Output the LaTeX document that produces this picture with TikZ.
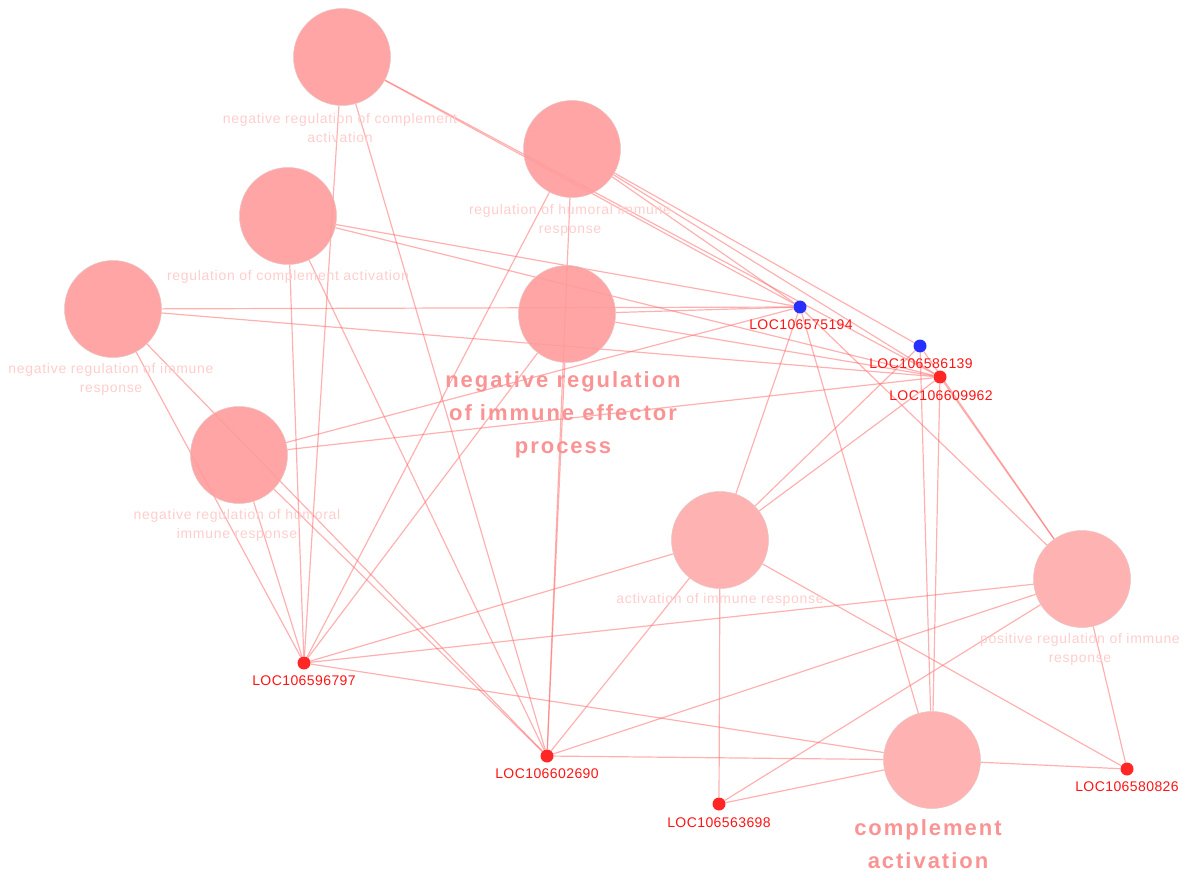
\documentclass[tikz,border=0pt]{standalone}
\usepackage{fontspec}
\setmainfont{Liberation Sans}
\newfontfamily\termfont[LetterSpace=5]{Liberation Sans}
\newfontfamily\bigfont[LetterSpace=9]{Liberation Sans}
\newfontfamily\locfont[LetterSpace=3]{Liberation Sans}
\definecolor{edgecol}{RGB}{255,100,100}
\definecolor{termdark}{RGB}{255,155,155}
\definecolor{termpale}{RGB}{255,170,170}
\definecolor{termrim}{RGB}{232,196,196}
\definecolor{termtxt}{RGB}{255,205,205}
\definecolor{bigtxt}{RGB}{250,148,148}
\definecolor{genered}{RGB}{255,38,38}
\definecolor{geneblue}{RGB}{40,48,255}
\definecolor{loctxt}{RGB}{255,20,20}
\pgfdeclarelayer{background}
\pgfsetlayers{background,main}
\tikzset{
  term/.style={circle, minimum size=97pt, inner sep=0pt, fill=termdark, fill opacity=0.9, draw=termrim, line width=0.5pt},
  termpl/.style={term, fill=termpale},
  gene/.style={circle, minimum size=13pt, inner sep=0pt, fill=genered},
  geneb/.style={gene, fill=geneblue},
  link/.style={draw=edgecol, draw opacity=0.5, line width=1.2pt},
  termlbl/.style={font=\termfont\fontsize{14}{19}\selectfont, text=termtxt, align=center, inner sep=0pt},
  biglbl/.style={font=\bigfont\bfseries\fontsize{22}{33}\selectfont, text=bigtxt, align=center, inner sep=0pt},
  loclbl/.style={font=\locfont\fontsize{14}{16}\selectfont, text=loctxt, inner sep=0pt},
}
\begin{document}
\begin{tikzpicture}[x=1pt,y=-1pt]
\useasboundingbox (0,0) rectangle (1194,885);
% term nodes
\node[term] (A) at (342,57) {};
\node[term] (B) at (288,216) {};
\node[term] (C) at (113,309) {};
\node[term] (D) at (572,149) {};
\node[term] (E) at (567,314) {};
\node[term] (F) at (239,455) {};
\node[termpl] (G) at (720,540) {};
\node[termpl] (H) at (1082,579) {};
\node[termpl] (I) at (932,760) {};
% gene nodes
\node[geneb] (g75) at (800,307) {};
\node[geneb] (g86) at (920,346) {};
\node[gene] (g62) at (940,377) {};
\node[gene] (g97) at (304,663) {};
\node[gene] (g90) at (547,756) {};
\node[gene] (g98) at (719,804) {};
\node[gene] (g26) at (1127,769) {};
% edges
\begin{pgfonlayer}{background}
\foreach \t in {A,B,C,E,F}{
  \foreach \g in {g75,g62,g97,g90}{ \draw[link] (\t) -- (\g); }
}
\foreach \g in {g75,g86,g62,g97,g90}{ \draw[link] (D) -- (\g); }
\foreach \t in {G,H,I}{
  \foreach \g in {g75,g86,g62,g97,g90,g98,g26}{ \draw[link] (\t) -- (\g); }
}
\end{pgfonlayer}
% term labels
\node[termlbl] (Alab) at (340,128) {negative regulation of complement\\activation};
\node[termlbl] (Dlab) at (570,220) {regulation of humoral immune\\response};
\node[termlbl] (Blab) at (288,277) {regulation of complement activation};
\node[termlbl] (Clab) at (111,379) {negative regulation of immune\\response};
\node[termlbl] (Flab) at (237,525) {negative regulation of humoral\\immune response};
\node[termlbl] (Glab) at (720,600) {activation of immune response};
\node[termlbl] (Hlab) at (1080,649) {positive regulation of immune\\response};
\node[biglbl] (Elab) at (563,415) {negative regulation\\of immune effector\\process};
\node[biglbl] (Ilab) at (928,844) {complement\\activation};
% gene labels
\node[loclbl] (l75) at (801,324.5) {LOC106575194};
\node[loclbl] (l86) at (921,364) {LOC106586139};
\node[loclbl] (l62) at (941,396) {LOC106609962};
\node[loclbl] (l97) at (304,680.5) {LOC106596797};
\node[loclbl] (l90) at (547,773.5) {LOC106602690};
\node[loclbl] (l98) at (719,823) {LOC106563698};
\node[loclbl] (l26) at (1127,786.5) {LOC106580826};
\end{tikzpicture}
\end{document}
